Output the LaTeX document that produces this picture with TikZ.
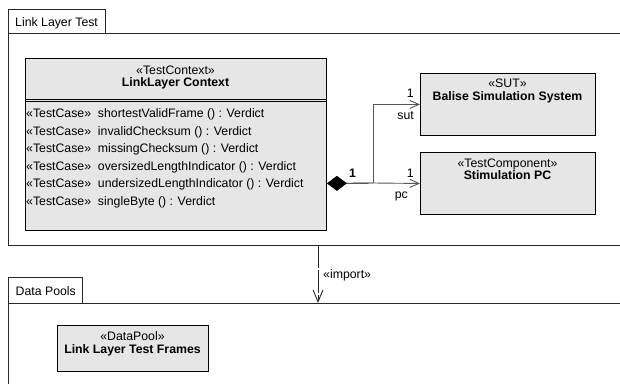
\documentclass[tikz,border=0pt]{standalone}
\usepackage{fontspec}
\setmainfont{Liberation Sans}
\usetikzlibrary{arrows.meta}
\definecolor{boxgray}{RGB}{230,230,230}
\definecolor{framecol}{RGB}{40,40,36}
\definecolor{linkcol}{RGB}{85,85,85}
\begin{document}
\begin{tikzpicture}[x=1pt,y=-1pt,
  font=\fontsize{12.3}{14}\selectfont,
  frameline/.style={draw=framecol, line width=1pt},
  tabbox/.style={draw=framecol, line width=0.9pt, fill=white, anchor=north west, inner sep=0pt},
  classbox/.style={draw=black, fill=boxgray, line width=0.9pt, anchor=north west, inner sep=0pt},
  txt/.style={inner sep=0pt, anchor=base},
  optxt/.style={inner sep=0pt, anchor=base west},
  link/.style={draw=linkcol, line width=0.9pt},
  openhead/.style={-{Straight Barb[length=9pt,width=8pt,line width=0.9pt]}}
]
\useasboundingbox (0,0) rectangle (620,383);

% ---- package "Link Layer Test"
\node[tabbox, minimum width=97pt, minimum height=24pt] (lltab) at (8,9) {};
\node[txt, anchor=base west] at (15,26) {Link Layer Test};
\coordinate (llnw) at (8,33);
\coordinate (llsw) at (8,245);
\draw[frameline] (621,33) -- (llnw) -- (llsw) -- (621,245);

% ---- test context class
\node[classbox, minimum width=301pt, minimum height=172pt] (ctx) at (25,58) {};
\node[txt] at (175.5,74) {«TestContext»};
\node[txt] at (175.5,86) {\bfseries LinkLayer Context};
\draw[black, line width=0.8pt] (25,99) -- (326,99);
\draw[black, line width=0.8pt] (25,101.5) -- (326,101.5);
\node[optxt] at (26,117) {«TestCase»\ \ shortestValidFrame () : Verdict};
\node[optxt] at (26,135) {«TestCase»\ \ invalidChecksum () : Verdict};
\node[optxt] at (26,152.5) {«TestCase»\ \ missingChecksum () : Verdict};
\node[optxt] at (26,170) {«TestCase»\ \ oversizedLengthIndicator () : Verdict};
\node[optxt] at (26,187.5) {«TestCase»\ \ undersizedLengthIndicator () : Verdict};
\node[optxt] at (26,205) {«TestCase»\ \ singleByte () : Verdict};

% ---- parts
\node[classbox, minimum width=175pt, minimum height=62pt] (sutbox) at (420,73) {};
\node[txt] at (507.5,87) {«SUT»};
\node[txt] at (507.5,100) {\bfseries Balise Simulation System};

\node[classbox, minimum width=175pt, minimum height=62pt] (pcbox) at (420,152) {};
\node[txt] at (507.5,167) {«TestComponent»};
\node[txt] at (507.5,179) {\bfseries Stimulation PC};

% ---- composition
\coordinate (split) at (373,183);
\draw[draw=black, line width=0.9pt, {Diamond[length=20pt,width=15pt,fill=black]}-] (ctx.east |- pcbox.west) -- (split);
\draw[link, openhead] (split) -- (pcbox.west);
\draw[link, openhead] (split) |- (sutbox.west);
\node[txt] at (352.5,177) {\bfseries 1};
\node[txt, anchor=base east] at (414,97) {1};
\node[txt, anchor=base east] at (414,119) {sut};
\node[txt, anchor=base east] at (414,177) {1};
\node[txt, anchor=base east] at (408,198) {pc};

% ---- package "Data Pools"
\node[tabbox, minimum width=74pt, minimum height=26pt] (dptab) at (8,277) {};
\node[txt, anchor=base west] at (15.5,295) {Data Pools};
\coordinate (dpnw) at (8,303);
\draw[frameline] (621,303) -- (dpnw) -- (8,384);

\node[classbox, minimum width=151pt, minimum height=46pt] (pool) at (57,325) {};
\node[txt] at (132.5,340) {«DataPool»};
\node[txt] at (132.5,353) {\bfseries Link Layer Test Frames};

% ---- import dependency
\coordinate (impfrom) at (318,245);
\coordinate (impto) at (318,303);
\draw[draw=framecol, line width=0.9pt, dash pattern=on 23pt off 2pt,
  -{Straight Barb[length=12pt,width=10pt,line width=0.9pt]}] (impfrom) -- (impto);
\node[txt, anchor=base west] at (323,278) {«import»};
\end{tikzpicture}
\end{document}
